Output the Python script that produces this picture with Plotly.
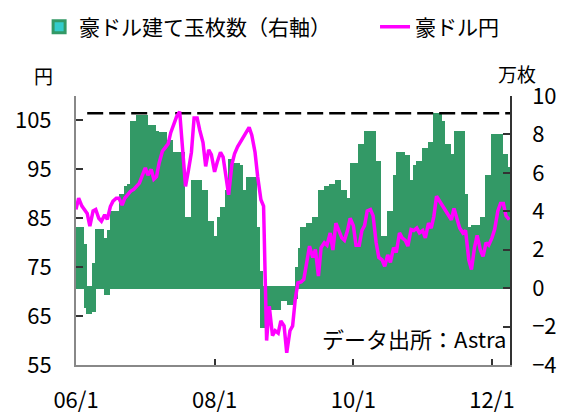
import pandas as pd
import plotly.graph_objects as go

# Semi-monthly observation dates (1st and 15th of each month)
dates = pd.date_range("2006-01-01", "2012-04-01", freq="SMS")

# Net AUD positions, 10k contracts (right axis)
positions = [
    3.1, 3.1, 3.1, 2.2, -1.0, -1.3, -1.2, 1.2, 3.0, 3.0,
    2.5, -0.3, 2.9, 3.9, 3.9, 3.9, 4.8, 4.8, 5.2, 5.3,
    8.6, 8.6, 8.9, 8.9, 8.9, 7.9, 8.4, 8.4, 8.1, 8.0,
    8.0, 8.0, 7.6, 7.6, 7.0, 7.0, 7.0, 7.0, 3.6, 3.6,
    3.1, 5.5, 5.5, 5.5, 5.0, 5.0, 3.4, 3.4, 2.6, 2.6,
    3.6, 4.1, 4.1, 5.0, 6.6, 6.4, 6.4, 6.3, 5.0, 5.0,
    5.7, 5.7, 5.7, 3.1, 0.8, -2.0, -2.0, -0.5, -1.1, -1.1,
    -1.1, -0.6, -0.6, -0.6, -0.8, -0.8, -0.5, 1.0, 2.0, 3.1,
    3.1, 3.3, 3.3, 3.6, 3.6, 5.0, 5.0, 5.2, 5.2, 5.3,
    5.3, 5.5, 5.0, 5.0, 4.6, 4.6, 6.4, 6.4, 4.5, 7.4,
    7.4, 8.1, 8.1, 8.1, 6.5, 6.5, 2.6, 2.6, 2.6, 3.9,
    3.9, 5.8, 7.0, 7.0, 6.8, 6.8, 5.5, 5.5, 6.3, 6.5,
    6.5, 7.2, 7.2, 7.5, 7.5, 9.0, 9.0, 8.6, 7.4, 7.4,
    6.9, 6.9, 8.1, 8.1, 8.1, 4.8, 3.1, 3.1, 3.2, 3.2,
    3.2, 3.6, 3.6, 5.8, 5.8, 7.9, 7.9, 7.9, 6.9, 6.9,
    6.2,
]

# AUD/JPY rate, yen (left axis)
audjpy = [
    86.8, 89.1, 87.5, 86.8, 86.0, 83.4, 86.5, 86.8, 85.0, 84.4,
    85.7, 84.8, 87.4, 88.5, 89.1, 89.1, 87.7, 89.1, 90.0, 90.5,
    90.9, 91.6, 92.2, 93.6, 95.3, 93.8, 95.0, 93.0, 93.5, 96.3,
    98.7, 99.4, 100.2, 102.5, 104.3, 105.8, 106.8, 100.4, 91.5, 94.5,
    98.5, 105.5, 105.5, 103.0, 100.5, 95.6, 99.0, 98.0, 94.5, 96.5,
    98.5, 97.5, 93.0, 89.8, 96.0, 98.2, 99.6, 100.5, 101.5, 102.7,
    103.6, 102.0, 98.5, 93.5, 88.8, 87.5, 60.0, 67.0, 61.0, 62.0,
    61.5, 64.0, 63.0, 57.5, 62.0, 63.0, 68.5, 71.8, 72.0, 72.5,
    76.2, 79.3, 77.0, 78.6, 73.2, 79.0, 80.0, 79.5, 82.0, 78.5,
    84.0, 82.5, 81.0, 80.5, 82.5, 85.0, 83.5, 79.5, 79.5, 82.5,
    83.5, 86.5, 86.8, 85.5, 80.0, 77.0, 76.5, 75.2, 77.5, 76.0,
    79.0, 78.0, 82.0, 81.0, 80.5, 79.3, 82.7, 82.5, 83.0, 82.0,
    82.5, 81.0, 84.0, 83.0, 85.4, 89.5, 88.5, 87.5, 86.5, 86.0,
    84.7, 87.0, 84.5, 83.0, 82.0, 82.5, 76.5, 74.5, 79.0, 81.5,
    78.5, 77.2, 80.0, 79.5, 81.0, 82.7, 86.5, 88.0, 88.0, 85.5,
    84.7,
]

# Record position level marked by the dashed guide
peak_dates = ["2006-03-01", "2012-04-05"]
peak_level = [9.1, 9.1]

x_tickvals = ["2006-01-01", "2008-01-01", "2010-01-01", "2012-01-01"]
x_ticktext = ["06/1", "08/1", "10/1", "12/1"]
left_ticks = [55, 65, 75, 85, 95, 105]
right_ticks = [-4, -2, 0, 2, 4, 6, 8, 10]

FONT = "Noto Sans CJK JP"
GREEN = "#339966"
CYAN = "#33CCCC"
MAGENTA = "#FF00FF"

fig = go.Figure()

fig.add_trace(go.Bar(
    x=dates, y=positions, name="豪ドル建て玉枚数（右軸）",
    width=15 * 86400000,
    marker=dict(color=CYAN, line=dict(color=GREEN, width=3)),
    yaxis="y", xaxis="x", legend="legend",
))

fig.add_trace(go.Scatter(
    x=peak_dates, y=peak_level, mode="lines", showlegend=False,
    line=dict(color="black", width=2.5, dash="16px,6px"),
    yaxis="y", xaxis="x", hoverinfo="skip",
))

fig.add_trace(go.Scatter(
    x=dates, y=audjpy, name="豪ドル円", mode="lines",
    line=dict(color=MAGENTA, width=3.5),
    yaxis="y2", xaxis="x", legend="legend2",
))

legend_style = dict(
    orientation="h", xanchor="left", yanchor="middle", y=1.2565,
    font=dict(size=21), bgcolor="rgba(0,0,0,0)",
)

fig.update_layout(
    width=576, height=414,
    margin=dict(l=76, r=66, t=96, b=49, autoexpand=False),
    paper_bgcolor="white", plot_bgcolor="white",
    font=dict(family=FONT, size=21, color="black"),
    bargap=0,
    showlegend=True,
    legend=dict(x=-0.085, **legend_style),
    legend2=dict(x=0.689, **legend_style),
    xaxis=dict(
        type="date", range=["2006-01-01", "2012-04-05"],
        tickvals=x_tickvals, ticktext=x_ticktext,
        ticks="inside", ticklen=6, tickwidth=1.5, tickcolor="#333",
        showline=True, linecolor="#888", linewidth=2,
        showgrid=False, zeroline=False, ticklabelstandoff=15,
        tickfont=dict(size=22),
    ),
    yaxis=dict(
        side="right", range=[-4, 10], tickvals=right_ticks,
        ticks="inside", ticklen=7, tickwidth=1.5, tickcolor="#333",
        showline=True, linecolor="#333", linewidth=1.5,
        showgrid=False, zeroline=False, ticklabelstandoff=16,
        tickfont=dict(size=22),
    ),
    yaxis2=dict(
        overlaying="y", side="left", range=[55, 110], tickvals=left_ticks,
        ticks="inside", ticklen=7, tickwidth=1.5, tickcolor="#333",
        showline=True, linecolor="#888", linewidth=2,
        showgrid=False, zeroline=False, ticklabelstandoff=18,
        tickfont=dict(size=22),
    ),
    annotations=[
        dict(text="円", xref="paper", yref="paper", x=-0.076, y=1.078,
             xanchor="center", yanchor="middle",
             showarrow=False, font=dict(size=19)),
        dict(text="万枚", xref="paper", yref="paper", x=1.016, y=1.085,
             xanchor="center", yanchor="middle",
             showarrow=False, font=dict(size=19)),
        dict(text="データ出所：Astra", xref="paper", yref="paper",
             x=0.995, y=0.1, xanchor="right", yanchor="middle",
             showarrow=False, font=dict(size=22)),
    ],
)

fig.write_html("out.html")
